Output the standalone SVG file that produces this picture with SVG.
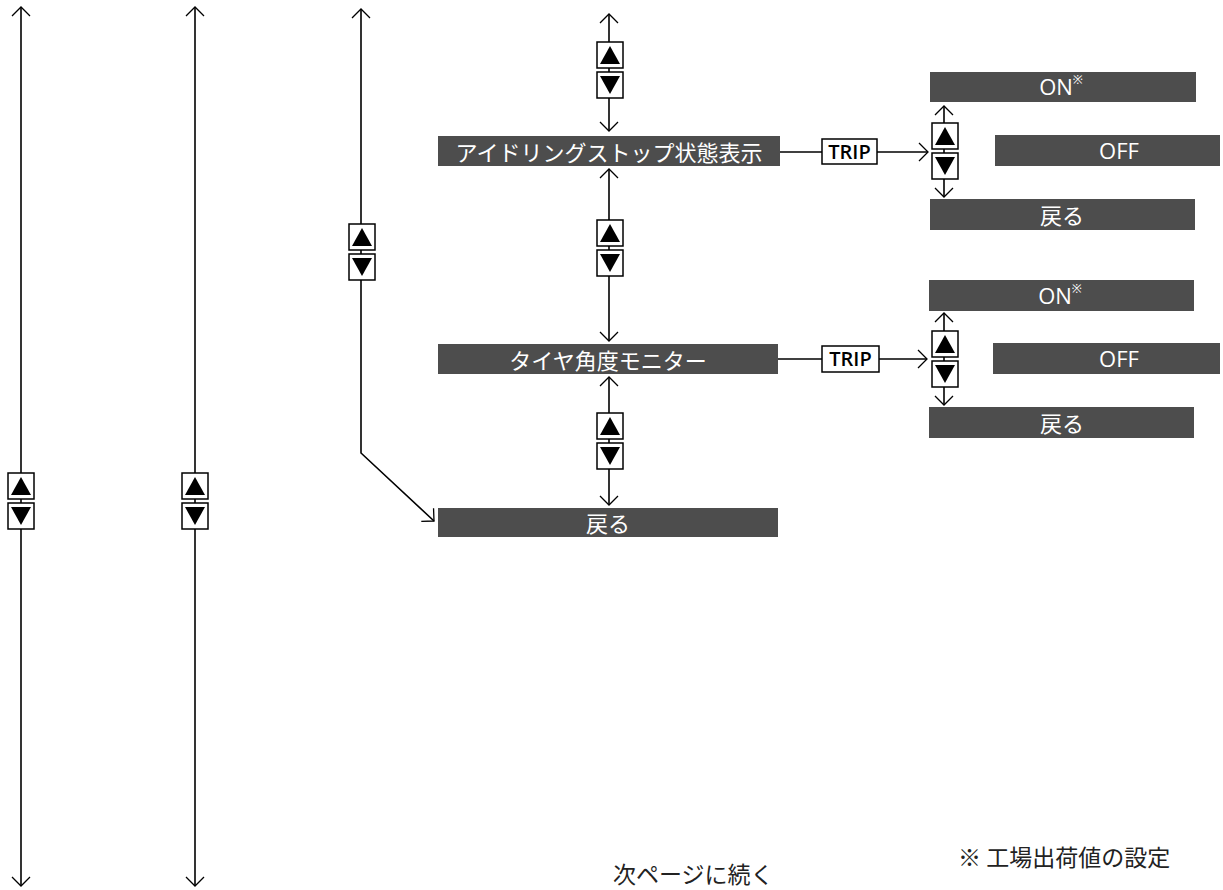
<svg xmlns="http://www.w3.org/2000/svg" width="1223" height="890" viewBox="0 0 1223 890">
<style>
.n{fill:#4d4d4d}
.t{fill:#fff;font-family:"Noto Sans CJK JP","Noto Sans",sans-serif;font-size:22px;text-anchor:middle;dominant-baseline:central}
.l{fill:#fff;font-family:"Open Sans","Noto Sans",sans-serif;font-size:22px;text-anchor:middle;dominant-baseline:central}
.c{stroke:#000;stroke-width:1.6;fill:none}
.b{fill:#fff;stroke:#000;stroke-width:1.5}
.tri{fill:#000}
.trip{fill:#000;font-family:"Open Sans","Noto Sans",sans-serif;font-weight:600;font-size:20px;text-anchor:middle;dominant-baseline:central}
.f{fill:#222;font-family:"Noto Sans CJK JP",sans-serif;font-size:23px}
</style>
<defs>
<marker id="a" markerWidth="20" markerHeight="20" refX="10" refY="10" orient="auto-start-reverse" markerUnits="userSpaceOnUse">
<path d="M1,1 L10,10 L1,19" fill="none" stroke="#000" stroke-width="1.3"/>
</marker>
<g id="btn">
<rect class="b" x="0" y="0" width="26" height="26"/>
<polygon class="tri" points="13,4 3,22 23,22"/>
<rect class="b" x="0" y="30" width="26" height="26"/>
<polygon class="tri" points="3,34 23,34 13,52"/>
</g>
</defs>
<g id="connectors">
<line class="c" x1="21" y1="7" x2="21" y2="886" stroke-width="2" marker-start="url(#a)" marker-end="url(#a)"/>
<line class="c" x1="195" y1="7" x2="195" y2="886" stroke-width="2" marker-start="url(#a)" marker-end="url(#a)"/>
<path class="c" d="M361,9 L361,453 L434,521" stroke="#333" stroke-width="1.3" marker-start="url(#a)" marker-end="url(#a)"/>
<line class="c" x1="609" y1="14" x2="609" y2="131" marker-start="url(#a)" marker-end="url(#a)"/>
<line class="c" x1="609" y1="169" x2="609" y2="341" marker-start="url(#a)" marker-end="url(#a)"/>
<line class="c" x1="609" y1="377" x2="609" y2="505" marker-start="url(#a)" marker-end="url(#a)"/>
<line class="c" x1="780" y1="152" x2="822" y2="152"/>
<line class="c" x1="877" y1="152" x2="928" y2="152" marker-end="url(#a)"/>
<line class="c" x1="944" y1="106" x2="944" y2="197" marker-start="url(#a)" marker-end="url(#a)"/>
<line class="c" x1="778" y1="359" x2="822" y2="359"/>
<line class="c" x1="879" y1="359" x2="927" y2="359" marker-end="url(#a)"/>
<line class="c" x1="944" y1="313" x2="944" y2="405" marker-start="url(#a)" marker-end="url(#a)"/>
</g>
<g id="buttons">
<use href="#btn" x="8" y="473"/>
<use href="#btn" x="182" y="473"/>
<use href="#btn" x="349" y="224"/>
<use href="#btn" x="597" y="42"/>
<use href="#btn" x="597" y="220"/>
<use href="#btn" x="597" y="413"/>
<use href="#btn" x="932" y="123"/>
<use href="#btn" x="932" y="331"/>
</g>
<g id="node-idle">
<rect class="n" x="438" y="136" width="342" height="30"/>
<text class="t" x="609" y="150.5">アイドリングストップ状態表示</text>
</g>
<g id="node-tire">
<rect class="n" x="438" y="344" width="340" height="30"/>
<text class="t" x="608" y="358.5">タイヤ角度モニター</text>
</g>
<g id="node-back">
<rect class="n" x="438" y="508" width="340" height="29"/>
<text class="t" x="608" y="521.5">戻る</text>
</g>
<g id="trip1">
<rect class="b" x="822" y="139" width="55" height="25"/>
<text class="trip" x="849.5" y="151">TRIP</text>
</g>
<g id="trip2">
<rect class="b" x="822" y="346" width="57" height="26"/>
<text class="trip" x="850.5" y="358.5">TRIP</text>
</g>
<g id="on1">
<rect class="n" x="930" y="72" width="266" height="30"/>
<text class="l" x="1061" y="86">ON<tspan font-size="12" dy="-7">※</tspan></text>
</g>
<g id="off1">
<rect class="n" x="995" y="135" width="225" height="31"/>
<text class="l" x="1119" y="150">OFF</text>
</g>
<g id="back1">
<rect class="n" x="930" y="199" width="265" height="31"/>
<text class="t" x="1062" y="214">戻る</text>
</g>
<g id="on2">
<rect class="n" x="929" y="280" width="265" height="31"/>
<text class="l" x="1060" y="294.5">ON<tspan font-size="12" dy="-7">※</tspan></text>
</g>
<g id="off2">
<rect class="n" x="993" y="343" width="227" height="31"/>
<text class="l" x="1119" y="358">OFF</text>
</g>
<g id="back2">
<rect class="n" x="929" y="407" width="265" height="31"/>
<text class="t" x="1062" y="422">戻る</text>
</g>
<g id="notes">
<text class="f" x="613" y="883">次ページに続く</text>
<text class="f" x="958" y="866">※ 工場出荷値の設定</text>
</g>
</svg>
